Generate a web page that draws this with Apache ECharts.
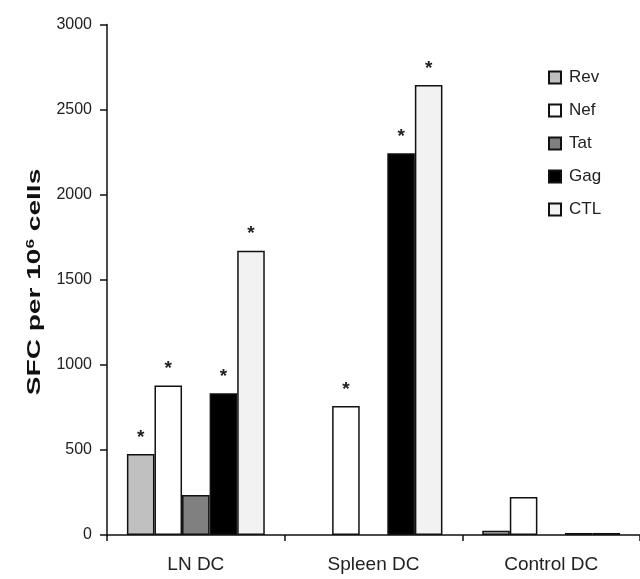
<!DOCTYPE html>
<html>
<head>
<meta charset="utf-8">
<script src="https://cdn.jsdelivr.net/npm/echarts@6/dist/echarts.min.js"></script>
<style>
  html, body { margin: 0; padding: 0; background: #fff; }
  #chart { width: 640px; height: 579px; }
</style>
</head>
<body>
<div id="chart"></div>
<script>
// Spot-forming cells per 10^6 cells by dendritic cell source and antigen
const categories = ['LN DC', 'Spleen DC', 'Control DC'];
const seriesNames = ['Rev', 'Nef', 'Tat', 'Gag', 'CTL'];
const rev = [476, 0, 25];
const nef = [878, 758, 223];
const tat = [235, 0, 0];
const gag = [833, 2243, 12];
const ctl = [1671, 2644, 12];
// significance markers (asterisk above the bar)
const revSig = [true, false, false];
const nefSig = [true, true, false];
const tatSig = [false, false, false];
const gagSig = [true, true, false];
const ctlSig = [true, true, false];
const yTicks = [0, 500, 1000, 1500, 2000, 2500, 3000];

const values = [rev, nef, tat, gag, ctl];
const sigs = [revSig, nefSig, tatSig, gagSig, ctlSig];
const fills = ['#c0c0c0', '#ffffff', '#808080', '#000000', '#f2f2f2'];
const FONT = 'Liberation Sans, Arial, sans-serif';

const chart = echarts.init(document.getElementById('chart'), null, { renderer: 'canvas' });

const series = seriesNames.map((name, i) => ({
  name,
  type: 'bar',
  barGap: '0%',
  barCategoryGap: '22.4%',
  // zero responses draw no bar at all
  data: values[i].map((v, j) => v === 0 ? null : {
    value: v,
    label: { show: sigs[i][j] }
  }),
  itemStyle: { color: fills[i], borderColor: '#111', borderWidth: 1.5 },
  label: {
    show: false,
    position: 'top',
    distance: 7,
    formatter: '*',
    fontFamily: FONT,
    fontSize: 19,
    fontWeight: 'bold',
    color: '#222'
  },
  emphasis: { disabled: true },
  animation: false
}));

chart.setOption({
  animation: false,
  backgroundColor: '#ffffff',
  grid: { left: 107, right: -9, top: 24.5, bottom: 44, containLabel: false },
  legend: {
    orient: 'vertical',
    left: 543,
    top: 64,
    itemWidth: 12,
    itemHeight: 12,
    itemGap: 16,
    icon: 'rect',
    data: seriesNames,
    textStyle: { fontFamily: FONT, fontSize: 17, lineHeight: 17, color: '#222', padding: [0, 0, 0, 3] },
    selectedMode: false
  },
  xAxis: {
    type: 'category',
    data: categories,
    axisLine: { lineStyle: { color: '#111', width: 1.5 } },
    axisTick: { show: true, length: 6, inside: false, lineStyle: { color: '#111', width: 1.5 } },
    axisLabel: { fontFamily: FONT, fontSize: 19, color: '#222', margin: 20 }
  },
  yAxis: {
    type: 'value',
    min: yTicks[0],
    max: yTicks[yTicks.length - 1],
    interval: yTicks[1] - yTicks[0],
    splitLine: { show: false },
    axisLine: { show: true, lineStyle: { color: '#111', width: 1.5 } },
    axisTick: { show: true, length: 7, lineStyle: { color: '#111', width: 1.5 } },
    axisLabel: { fontFamily: FONT, fontSize: 16, color: '#222', margin: 15, formatter: v => String(v) }
  },
  graphic: [{
    // rotated, stretched y-axis title
    type: 'text',
    x: 35,
    y: 282,
    rotation: Math.PI / 2,
    scaleX: 1.56,
    style: {
      text: '{b|SFC per 10}{s|6}{b| cells}',
      align: 'center',
      verticalAlign: 'middle',
      rich: {
        b: { fontFamily: FONT, fontSize: 18, fontWeight: 'bold', fill: '#111' },
        s: { fontFamily: FONT, fontSize: 11, fontWeight: 'bold', fill: '#111', verticalAlign: 'top', padding: [0, 0, 9, 0] }
      }
    }
  }],
  series
});
</script>
</body>
</html>
